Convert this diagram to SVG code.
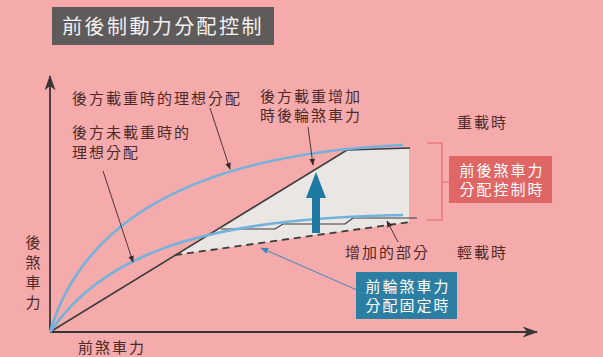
<svg xmlns="http://www.w3.org/2000/svg" width="603" height="357" viewBox="0 0 603 357">
<defs>
<style>
.t{font-family:"Noto Sans CJK TC","Noto Sans CJK SC",sans-serif;font-size:15px;fill:#4f2a2a;letter-spacing:2px}
.w{font-family:"Noto Sans CJK TC","Noto Sans CJK SC",sans-serif;font-size:15px;fill:#ffffff;letter-spacing:2px}
.ptr{stroke:#3a2a2a;stroke-width:0.9;fill:none}
.blue{stroke:#72b2dc;stroke-width:2.6;fill:none}
.dark{stroke:#3e3b3b;stroke-width:1.6;fill:none}
</style>
<marker id="ah" viewBox="0 0 10 10" refX="9" refY="5" markerWidth="7" markerHeight="7" orient="auto" markerUnits="userSpaceOnUse"><path d="M0,1 L10,5 L0,9 z" fill="#3a2a2a"/></marker>
<marker id="ahb" viewBox="0 0 10 10" refX="9" refY="5" markerWidth="8" markerHeight="8" orient="auto" markerUnits="userSpaceOnUse"><path d="M0,1 L10,5 L0,9 z" fill="#3b87b8"/></marker>
<marker id="axh" viewBox="0 0 14 10" refX="13" refY="5" markerWidth="16" markerHeight="11" orient="auto" markerUnits="userSpaceOnUse"><path d="M0,0 L14,5 L0,10 L4,5 z" fill="#3a3535"/></marker>
</defs>
<rect x="0" y="0" width="603" height="357" fill="#f5abab"/>

<g id="title">
<rect x="52" y="7" width="222" height="38" fill="#5f5b5b"/>
<text x="163" y="34" text-anchor="middle" style="font-family:'Noto Sans CJK TC','Noto Sans CJK SC',sans-serif;font-size:20px;fill:#f2f2f2;letter-spacing:2.4px">前後制動力分配控制</text>
</g>

<g id="shade">
<path d="M175,255 L347,150 L409,148 L409,222 Z" fill="#e9e6e4"/>
</g>

<g id="axes">
<line x1="50" y1="332" x2="50" y2="76" stroke="#3a3535" stroke-width="1.8" marker-end="url(#axh)"/>
<line x1="50" y1="332" x2="537" y2="332" stroke="#3a3535" stroke-width="1.8" marker-end="url(#axh)"/>
</g>

<g id="connectors">
<path class="dark" d="M50,332 L347,150 L410,148"/>
<path d="M175,255 L410,222" stroke="#3e3b3b" stroke-width="1.8" stroke-dasharray="7,5" fill="none"/>
<path d="M221,229 L275,229 L283,224 L345,224 L353,218 L417,218" stroke="#3e3b3b" stroke-width="1.2" fill="none"/>
<path class="blue" d="M50,332 C80,230 180,155 403,145"/>
<path class="blue" d="M50,332 C100,260 190,218 403,215"/>
<line class="ptr" x1="210" y1="108" x2="230" y2="169" marker-end="url(#ah)"/>
<line class="ptr" x1="103" y1="171" x2="133" y2="262" marker-end="url(#ah)"/>
<line class="ptr" x1="308" y1="127" x2="313" y2="165" marker-end="url(#ah)"/>
<line class="ptr" x1="398" y1="242" x2="387" y2="221" marker-end="url(#ah)"/>
<line x1="357" y1="290" x2="261" y2="248" stroke="#3b87b8" stroke-width="1" marker-end="url(#ahb)"/>
</g>

<g id="big-arrow">
<path d="M312,233 L312,198 L306,198 L316,172 L326,198 L320,198 L320,233 Z" fill="#1f7aa3"/>
</g>

<g id="bracket">
<path d="M427,143 L442,143 L442,220 L427,220 M442,182 L450,182" stroke="#e46a6a" stroke-width="1.2" fill="none"/>
</g>

<g id="label-heavy-ideal"><text class="t" x="72" y="104">後方載重時的理想分配</text></g>
<g id="label-unloaded-ideal"><text class="t" x="72" y="138">後方未載重時的</text><text class="t" x="72" y="158">理想分配</text></g>
<g id="label-increase"><text class="t" x="260" y="102">後方載重增加</text><text class="t" x="260" y="121">時後輪煞車力</text></g>
<g id="label-heavy"><text class="t" x="457" y="128">重載時</text></g>
<g id="label-light"><text class="t" x="457" y="258">輕載時</text></g>
<g id="label-part"><text class="t" x="345" y="258">增加的部分</text></g>
<g id="label-yaxis">
<text class="t" x="34" y="248" text-anchor="middle">後</text>
<text class="t" x="34" y="268" text-anchor="middle">煞</text>
<text class="t" x="34" y="288" text-anchor="middle">車</text>
<text class="t" x="34" y="308" text-anchor="middle">力</text>
</g>
<g id="label-xaxis"><text class="t" x="78" y="353">前煞車力</text></g>

<g id="box-control">
<rect x="449" y="156" width="103" height="47" fill="#e06666"/>
<text class="w" x="502" y="176" text-anchor="middle">前後煞車力</text>
<text class="w" x="502" y="195" text-anchor="middle">分配控制時</text>
</g>
<g id="box-fixed">
<rect x="356" y="272" width="101" height="47" fill="#2c7fa3"/>
<text class="w" x="408" y="292" text-anchor="middle">前輪煞車力</text>
<text class="w" x="408" y="311" text-anchor="middle">分配固定時</text>
</g>
</svg>
